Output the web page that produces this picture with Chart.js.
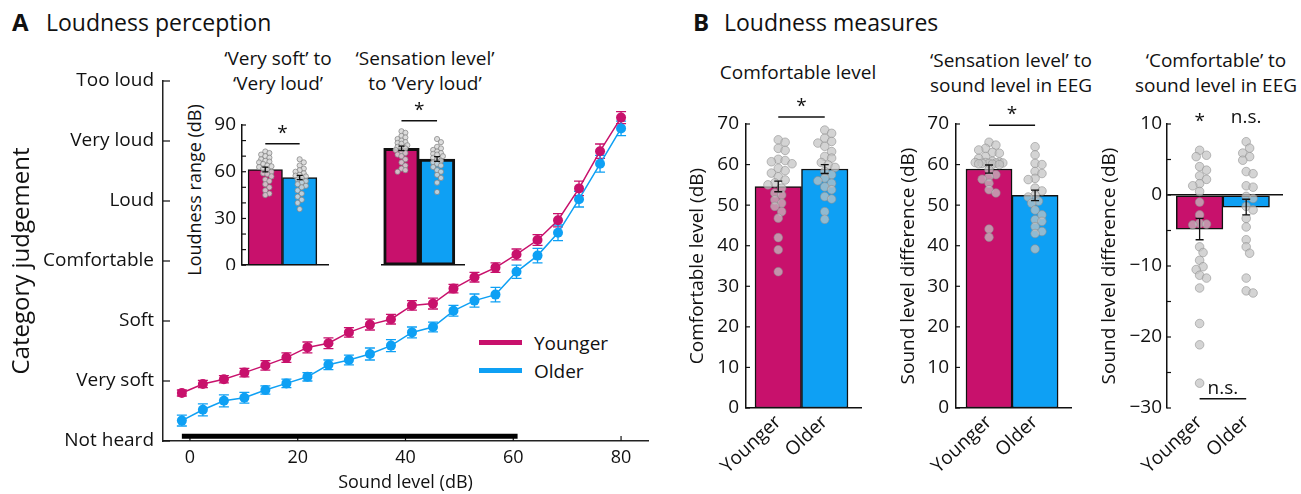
<!DOCTYPE html>
<html>
<head>
<meta charset="utf-8">
<title>Loudness perception and loudness measures</title>
<script src="https://cdn.jsdelivr.net/npm/chart.js@4.4.1/dist/chart.umd.min.js"></script>
<style>
  html, body { margin: 0; padding: 0; background: #fff; }
  body { position: relative; width: 1301px; height: 494px; overflow: hidden; font-family: 'Open Sans', sans-serif; color: #111; }
  canvas { position: absolute; }
  .tx { position: absolute; white-space: nowrap; line-height: 1; transform: translate(-50%, -50%); }
  .lf { transform: translate(0, -50%); }
  .rot { transform: translate(-50%, -50%) rotate(-90deg); }
  .key { position: absolute; width: 43px; height: 5px; }
</style>
</head>
<body>
<div class="tx lf" style="left:12px;top:22px;font-size:24px;font-weight:700">A</div>
<div class="tx lf" style="left:46px;top:22px;font-size:23px">Loudness perception</div>
<div class="tx lf" style="left:693px;top:22px;font-size:24px;font-weight:700">B</div>
<div class="tx lf" style="left:724px;top:22px;font-size:23px">Loudness measures</div>

<div class="tx" style="left:278px;top:58px;font-size:19px">‘Very soft’ to</div>
<div class="tx" style="left:278px;top:83px;font-size:19px">‘Very loud’</div>
<div class="tx" style="left:425px;top:58px;font-size:19px">‘Sensation level’</div>
<div class="tx" style="left:425px;top:83px;font-size:19px">to ‘Very loud’</div>
<div class="tx rot" style="left:194px;top:190px;font-size:18px">Loudness range (dB)</div>

<div class="tx" style="left:798px;top:72px;font-size:19px">Comfortable level</div>
<div class="tx" style="left:1011px;top:60px;font-size:19px">‘Sensation level’ to</div>
<div class="tx" style="left:1011px;top:85px;font-size:19px">sound level in EEG</div>
<div class="tx" style="left:1216px;top:60px;font-size:19px">‘Comfortable’ to</div>
<div class="tx" style="left:1216px;top:85px;font-size:19px">sound level in EEG</div>

<div class="key" style="left:479px;top:340px;background:#C8116C"></div>
<div class="tx lf" style="left:534px;top:343px;font-size:19px">Younger</div>
<div class="key" style="left:479px;top:368px;background:#0EA0F4"></div>
<div class="tx lf" style="left:534px;top:371px;font-size:19px">Older</div>

<script>
/* ── loudness figure ── Chart.js ─────────────────────── */

const MAG = '#C8116C';
const BLU = '#0EA0F4';
const INK = '#111';

// ── A: category judgement vs sound level ────────────────
const soundLevels = [-1.5, 2.4, 6.3, 10.1, 14.0, 17.9, 21.8, 25.7, 29.5, 33.4, 37.3,
                     41.2, 45.1, 48.9, 52.8, 56.7, 60.6, 64.5, 68.3, 72.2, 76.1, 80.0];
const categories  = ['Not heard', 'Very soft', 'Soft', 'Comfortable', 'Loud', 'Very loud', 'Too loud'];
const youngerMean = [0.80, 0.95, 1.03, 1.14, 1.26, 1.39, 1.56, 1.63, 1.81, 1.94, 2.03,
                     2.26, 2.29, 2.54, 2.73, 2.89, 3.11, 3.35, 3.68, 4.21, 4.83, 5.39];
const youngerSem  = [0.05, 0.06, 0.06, 0.07, 0.08, 0.08, 0.09, 0.09, 0.08, 0.09, 0.08,
                     0.08, 0.09, 0.07, 0.08, 0.08, 0.09, 0.09, 0.11, 0.12, 0.12, 0.10];
const olderMean   = [0.34, 0.52, 0.67, 0.72, 0.85, 0.96, 1.07, 1.27, 1.35, 1.45, 1.59,
                     1.81, 1.90, 2.17, 2.34, 2.44, 2.82, 3.09, 3.47, 4.03, 4.62, 5.21];
const olderSem    = [0.09, 0.10, 0.10, 0.09, 0.07, 0.07, 0.07, 0.08, 0.08, 0.10, 0.10,
                     0.09, 0.08, 0.09, 0.11, 0.12, 0.11, 0.12, 0.13, 0.13, 0.14, 0.12];
const levelTicks  = [0, 20, 40, 60, 80];
const eegLevelRange = [-1.5, 60.8];   // sound levels used in the EEG

// ── A insets: loudness range (dB) ───────────────────────
const groups = ['Younger', 'Older'];
const rangeTicks  = [0, 10, 20, 30, 40, 50, 60, 70, 80, 90];
const rangeLabels = [0, 30, 60, 90];
const vsVlMean    = [61.4, 56.3];
const vsVlSem     = [1.5, 1.4];
const vsVlYounger = [73, 72, 71, 70, 69, 68, 67, 66.5, 66, 65, 64, 63.5, 63, 62, 61, 60, 59, 58.5, 57, 55, 54, 52, 50, 48, 46, 45];
const vsVlOlder   = [68, 66, 64, 62, 61, 60, 59, 58, 57.5, 57, 56, 55, 54, 53, 52, 51, 50, 48, 46, 44, 42, 40, 36];
const slVlMean    = [75.0, 68.2];
const slVlSem     = [1.4, 1.5];
const slVlYounger = [86, 85, 83, 82, 81, 80, 79, 78.5, 78, 77, 76, 75.5, 75, 74, 73, 72, 71, 70, 68, 66, 64, 62, 61, 60];
const slVlOlder   = [81, 79, 76, 75, 74, 73, 72, 71.5, 71, 70, 69, 68, 67, 66, 65, 64, 63, 61, 60, 58, 56, 53, 47];

// ── B: loudness measures ────────────────────────────────
const levelTicksB = [0, 10, 20, 30, 40, 50, 60, 70];
const comfMean    = [54.6, 58.9];
const comfSem     = [1.3, 1.1];
const comfYounger = [66.1, 65.5, 64, 63.5, 61.3, 61, 60.7, 60.2, 59.1, 58.5, 57.9, 57, 56.2,
                     55.5, 55, 54.2, 53, 52.5, 51.3, 50.5, 49.7, 48.4, 46.8, 42, 39, 33.6];
const comfOlder   = [68.5, 67.7, 66.5, 65.7, 65.3, 64.5, 63.2, 62, 61.6, 60.5, 59.9, 59.3,
                     58.3, 57.5, 56.7, 56, 55.4, 54.5, 53.8, 52.1, 51.5, 48.4, 46.5];
const slEegMean    = [58.9, 52.4];
const slEegSem     = [1.0, 1.3];
const slEegYounger = [65.5, 64.8, 64, 63.6, 63, 62.8, 62, 61.5, 60.8, 60.6, 60.5, 60.5, 60.4, 60.4,
                      60.3, 60.3, 60.2, 60.1, 60, 58.7, 57.5, 57, 56.4, 55.4, 53.8, 53, 44.1, 42.1];
const slEegOlder   = [64.4, 62.4, 60.3, 60, 58.3, 57.8, 56.6, 56.3, 54.2, 53.5, 52.5, 52, 51,
                      50.5, 48.8, 47.6, 46.4, 46, 44.7, 43.5, 43, 39.2];
const diffTicks      = [-30, -25, -20, -15, -10, -5, 0, 5, 10];
const diffLabels     = [-30, -20, -10, 0, 10];
const comfEegMean    = [-4.8, -1.7];
const comfEegSem     = [1.5, 1.1];
const comfEegYounger = [6.3, 5.6, 5.4, 4, 3.5, 2.7, 2.2, 1.6, 1.3, 0.5, -1, -2.8, -4, -4.1, -4.2,
                        -7.3, -8.1, -9.2, -10.1, -10.5, -11.3, -11.7, -13.1, -18.1, -21.1, -26.5];
const comfEegOlder   = [7.5, 6.6, 5.9, 5.4, 4.9, 3.3, 3, 1.3, 1.1, -0.2, -0.5, -1.6, -2.1, -3.3,
                        -4.5, -6.3, -7.3, -8.2, -11.7, -13.5, -13.8];

Chart.defaults.font.family = "'Open Sans', sans-serif";
Chart.defaults.color = INK;

// ── plugins ─────────────────────────────────────────────
// inward tick marks (MATLAB style)
const inTicks = {
  id: 'inTicks',
  beforeDatasetsDraw(chart, args, opts) {
    const { ctx, chartArea: a } = chart;
    ctx.save();
    ctx.strokeStyle = INK; ctx.lineWidth = 1.2;
    Object.entries(opts.len || {}).forEach(([id, len]) => {
      const s = chart.scales[id];
      s.ticks.forEach(t => {
        const p = s.getPixelForValue(t.value);
        ctx.beginPath();
        if (s.isHorizontal()) { ctx.moveTo(p, a.bottom); ctx.lineTo(p, a.bottom - len); }
        else { ctx.moveTo(a.left, p); ctx.lineTo(a.left + len, p); }
        ctx.stroke();
      });
    });
    ctx.restore();
  },
};

function drawErrors(chart) {
  const ctx = chart.ctx;
  chart.data.datasets.forEach((ds, di) => {
    if (!ds.errs) return;
    const meta = chart.getDatasetMeta(di);
    const ys = chart.scales[meta.yAxisID];
    ctx.save();
    ctx.strokeStyle = ds.errColor; ctx.lineWidth = 1.3;
    meta.data.forEach((el, i) => {
      const v = ds.data[i].y, e = ds.errs[i], c = ds.errCap;
      const y0 = ys.getPixelForValue(v - e), y1 = ys.getPixelForValue(v + e);
      ctx.beginPath();
      ctx.moveTo(el.x, y0); ctx.lineTo(el.x, y1);
      ctx.moveTo(el.x - c, y0); ctx.lineTo(el.x + c, y0);
      ctx.moveTo(el.x - c, y1); ctx.lineTo(el.x + c, y1);
      ctx.stroke();
    });
    ctx.restore();
  });
}
const errorBars = {
  id: 'errorBars',
  beforeDatasetsDraw(chart, args, opts) { if (opts.layer === 'before') drawErrors(chart); },
  afterDatasetsDraw(chart, args, opts) { if (opts.layer !== 'before') drawErrors(chart); },
};

// significance brackets / labels
const brackets = {
  id: 'brackets',
  afterDraw(chart, args, opts) {
    const items = opts.items || [];
    if (!items.length) return;
    const { ctx, scales: { x, y } } = chart;
    ctx.save();
    ctx.fillStyle = INK; ctx.strokeStyle = INK; ctx.lineWidth = 1.5;
    ctx.font = "19px 'Open Sans', sans-serif";
    ctx.textAlign = 'center'; ctx.textBaseline = 'bottom';
    items.forEach(it => {
      const py = y.getPixelForValue(it.y);
      const x0 = x.getPixelForValue(it.x0);
      if (it.x1 === undefined) { ctx.fillText(it.text, x0, py); return; }
      const x1 = x.getPixelForValue(it.x1);
      ctx.beginPath(); ctx.moveTo(x0, py); ctx.lineTo(x1, py); ctx.stroke();
      ctx.fillText(it.text, (x0 + x1) / 2, py - 1);
    });
    ctx.restore();
  },
};
Chart.register(inTicks, errorBars, brackets);

// ── helpers ─────────────────────────────────────────────
function place(area, m) {
  const cv = document.createElement('canvas');
  const left = area.l - m.left, top = area.t - m.top;
  cv.width = area.r + m.right - left;
  cv.height = area.b + m.bottom - top;
  cv.style.left = left + 'px';
  cv.style.top = top + 'px';
  document.body.appendChild(cv);
  return cv;
}

function fitTo(size, horiz) {
  return s => {
    if (horiz) s.height = size; else s.width = size;
    s.paddingLeft = s.paddingRight = s.paddingTop = s.paddingBottom = 0;
  };
}

const fmt = v => (v < 0 ? '\u2212' + Math.abs(v) : String(v));

// non-overlapping horizontal offsets for the individual dots
function swarm(vals, pyu, pxu, r, maxOff) {
  const placed = [];
  const off = new Array(vals.length).fill(0);
  const order = vals.map((_, i) => i).sort((a, b) => vals[b] - vals[a]);
  const minD = 1.5 * r, step = 0.8 * r;
  const kMax = Math.ceil(2 * maxOff / step) + 1;
  order.forEach(i => {
    const py = vals[i] * pyu;
    let best = 0, bestGap = -1;
    for (let k = 0; k <= kMax; k++) {
      const c = (k % 2 ? 1 : -1) * Math.ceil(k / 2) * step;
      if (Math.abs(c) > maxOff) continue;
      const gap = placed.reduce((g, p) => Math.min(g, Math.hypot(p.x - c, p.y - py)), Infinity);
      if (gap >= minD) { best = c; break; }
      if (gap > bestGap) { best = c; bestGap = gap; }
    }
    placed.push({ x: best, y: py });
    off[i] = best / pxu;
  });
  return off;
}

const baseOpts = () => ({
  animation: false,
  responsive: false,
  devicePixelRatio: 1,
  events: [],
});

// ── A main: loudness curves ─────────────────────────────
function series(mean, sem, color) {
  return {
    data: soundLevels.map((x, i) => ({ x, y: mean[i] })),
    borderColor: color, backgroundColor: color,
    pointBackgroundColor: color, pointBorderWidth: 0, pointRadius: 5,
    borderWidth: 1.5, clip: false,
    errs: sem, errColor: color, errCap: 5,
  };
}

(function renderCurves() {
  const area = { l: 163, t: 81, r: 648, b: 441 };
  const m = { left: 163, top: 14, right: 12, bottom: 53 };
  const cv = place(area, m);
  new Chart(cv, {
    type: 'line',
    data: {
      datasets: [
        series(youngerMean, youngerSem, MAG),
        series(olderMean, olderSem, BLU),
        {
          data: eegLevelRange.map(x => ({ x, y: 0.08 })),
          borderColor: '#000', borderWidth: 5, borderCapStyle: 'butt', pointRadius: 0,
        },
      ],
    },
    options: {
      ...baseOpts(),
      layout: { padding: { top: m.top, right: m.right, left: 0, bottom: 0 } },
      plugins: {
        legend: { display: false }, tooltip: { enabled: false },
        inTicks: { len: { x: 5, y: 7 } },
        errorBars: { layer: 'before' },
      },
      scales: {
        x: {
          type: 'linear', min: -5, max: 85,
          afterBuildTicks: s => { s.ticks = levelTicks.map(v => ({ value: v })); },
          ticks: { padding: 6, font: { size: 18 } },
          grid: { display: false, drawTicks: false },
          border: { color: '#222', width: 1.5 },
          title: { display: true, text: 'Sound level (dB)', font: { size: 18 }, padding: { top: 0, bottom: 0 } },
          afterFit: fitTo(m.bottom, true),
        },
        y: {
          type: 'linear', min: 0, max: 6,
          afterBuildTicks: s => { s.ticks = categories.map((_, i) => ({ value: i })); },
          ticks: { padding: 9, autoSkip: false, font: { size: 19 }, callback: v => categories[v] },
          grid: { display: false, drawTicks: false },
          border: { color: '#222', width: 1.5 },
          title: { display: true, text: 'Category judgement', font: { size: 24 }, padding: { top: 8, bottom: 0 } },
          afterFit: fitTo(m.left, false),
        },
      },
    },
  });
})();

// ── bar panels (insets of A, and B) ─────────────────────
function barPanel(p) {
  const cv = place(p.area, p.m);
  const pyu = (p.area.b - p.area.t) / (p.ymax - p.ymin);
  const pxu = (p.area.r - p.area.l) / (p.xmax - p.xmin);
  const dots = [];
  p.pts.forEach((vals, g) => {
    const off = swarm(vals, pyu, pxu, p.dotR, p.spread);
    vals.forEach((v, i) => dots.push({ x: g + off[i], y: v }));
  });

  return new Chart(cv, {
    type: 'bar',
    data: {
      datasets: [
        {
          type: 'bar', order: 2,
          data: p.bars.map((y, i) => ({ x: i, y })),
          backgroundColor: [MAG, BLU], borderColor: INK, borderWidth: p.barBorder,
          borderSkipped: false, barPercentage: 1, categoryPercentage: 1,
          errs: p.sems, errColor: INK, errCap: p.cap,
        },
        {
          type: 'scatter', order: 1, data: dots,
          pointRadius: p.dotR, backgroundColor: p.dotFill, borderColor: p.dotEdge, borderWidth: 0.8,
        },
      ],
    },
    options: {
      ...baseOpts(),
      layout: { padding: { top: p.m.top, right: p.m.right, left: 0, bottom: 0 } },
      plugins: {
        legend: { display: false }, tooltip: { enabled: false },
        inTicks: { len: p.showY ? { y: p.tickLen } : {} },
        brackets: { items: p.sig },
      },
      scales: {
        x: {
          type: 'linear', min: p.xmin, max: p.xmax, offset: false,
          afterBuildTicks: s => { s.ticks = groups.map((_, i) => ({ value: i })); },
          ticks: {
            display: p.showX, autoSkip: false, minRotation: 43, maxRotation: 43, padding: 3,
            font: { size: 19 }, callback: v => groups[v],
          },
          grid: { display: false, drawTicks: false, offset: false },
          border: { display: p.xLine, color: INK, width: 1.5 },
          afterFit: fitTo(p.m.bottom, true),
        },
        y: {
          type: 'linear', min: p.ymin, max: p.ymax,
          afterBuildTicks: s => { s.ticks = p.yTicks.map(v => ({ value: v })); },
          ticks: {
            display: p.showY, autoSkip: false, padding: p.tickPad, font: { size: 19 },
            callback: v => (p.yLabels.includes(v) ? fmt(v) : ''),
          },
          grid: {
            display: !!p.zeroLine, drawTicks: false, lineWidth: 1.5,
            color: c => (c.tick && c.tick.value === 0 ? INK : 'rgba(0,0,0,0)'),
          },
          border: { display: p.showY, color: INK, width: 1.5 },
          title: {
            display: !!p.yTitle, text: p.yTitle || '', font: { size: 19 },
            padding: { top: p.titlePad || 0, bottom: 0 },
          },
          afterFit: fitTo(p.m.left, false),
        },
      },
    },
  });
}

const insetDots = { dotR: 2.6, spread: 8, dotFill: 'rgba(215,215,215,0.85)', dotEdge: 'rgba(130,130,130,0.9)' };
const bDots     = { dotR: 4.3, spread: 14, dotFill: 'rgba(196,196,196,0.72)', dotEdge: 'rgba(140,140,140,0.7)' };

// A inset 1: 'Very soft' to 'Very loud'
barPanel({
  ...insetDots,
  area: { l: 242, t: 125, r: 329, b: 266 }, m: { left: 66, top: 30, right: 4, bottom: 4 },
  xmin: -0.677, xmax: 1.83, ymin: 0, ymax: 90,
  yTicks: rangeTicks, yLabels: rangeLabels, showY: true, showX: false, xLine: true,
  tickLen: 4, tickPad: 6,
  bars: vsVlMean, sems: vsVlSem, pts: [vsVlYounger, vsVlOlder], barBorder: 1.5, cap: 3,
  sig: [{ x0: 0, x1: 1, y: 78, text: '*' }],
});

// A inset 2: 'Sensation level' to 'Very loud'
barPanel({
  ...insetDots,
  area: { l: 377, t: 125, r: 465, b: 266 }, m: { left: 0, top: 30, right: 4, bottom: 4 },
  xmin: -0.553, xmax: 1.763, ymin: 0, ymax: 90,
  yTicks: rangeTicks, yLabels: rangeLabels, showY: false, showX: false, xLine: true,
  bars: slVlMean, sems: slVlSem, pts: [slVlYounger, slVlOlder], barBorder: 3, cap: 3,
  sig: [{ x0: 0, x1: 1, y: 92.7, text: '*' }],
});

// B1: comfortable level
barPanel({
  ...bDots,
  area: { l: 746, t: 124, r: 861, b: 408 }, m: { left: 66, top: 40, right: 6, bottom: 85 },
  xmin: -0.694, xmax: 1.78, ymin: 0, ymax: 70,
  yTicks: levelTicksB, yLabels: levelTicksB, showY: true, showX: true, xLine: true,
  tickLen: 4, tickPad: 7, yTitle: 'Comfortable level (dB)', titlePad: 6,
  bars: comfMean, sems: comfSem, pts: [comfYounger, comfOlder], barBorder: 1.5, cap: 4,
  sig: [{ x0: 0, x1: 1, y: 71.7, text: '*' }],
});

// B2: 'Sensation level' to sound level in EEG
barPanel({
  ...bDots,
  area: { l: 956, t: 124, r: 1071, b: 408 }, m: { left: 66, top: 40, right: 6, bottom: 85 },
  xmin: -0.717, xmax: 1.78, ymin: 0, ymax: 70,
  yTicks: levelTicksB, yLabels: levelTicksB, showY: true, showX: true, xLine: true,
  tickLen: 4, tickPad: 7, yTitle: 'Sound level difference (dB)', titlePad: 7,
  bars: slEegMean, sems: slEegSem, pts: [slEegYounger, slEegOlder], barBorder: 1.5, cap: 4,
  sig: [{ x0: 0, x1: 1, y: 69.7, text: '*' }],
});

// B3: 'Comfortable' to sound level in EEG
barPanel({
  ...bDots,
  area: { l: 1167, t: 124, r: 1283, b: 408 }, m: { left: 75, top: 40, right: 10, bottom: 85 },
  xmin: -0.70, xmax: 1.79, ymin: -30, ymax: 10,
  yTicks: diffTicks, yLabels: diffLabels, showY: true, showX: true, xLine: false, zeroLine: true,
  tickLen: 4, tickPad: 5, yTitle: 'Sound level difference (dB)', titlePad: 6,
  bars: comfEegMean, sems: comfEegSem, pts: [comfEegYounger, comfEegOlder], barBorder: 1.5, cap: 4,
  sig: [
    { x0: 0, x1: 1, y: -28.7, text: 'n.s.' },
    { x0: 0, y: 9.0, text: '*' },
    { x0: 1, y: 9.5, text: 'n.s.' },
  ],
});
</script>
</body>
</html>
